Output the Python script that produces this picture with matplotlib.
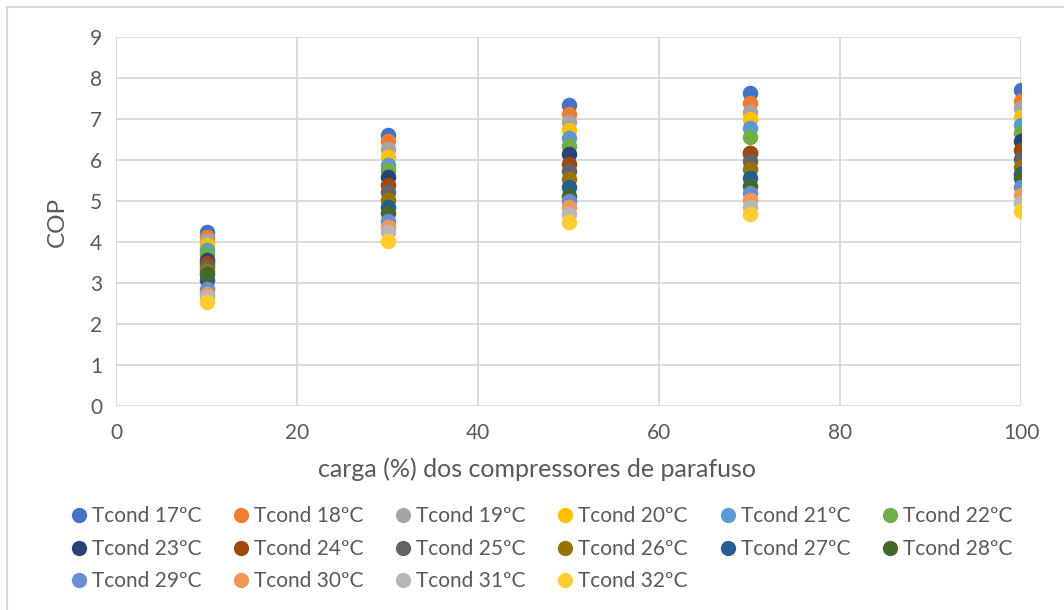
import matplotlib
matplotlib.use("Agg")
import matplotlib.pyplot as plt
from matplotlib.lines import Line2D

plt.rcParams['font.family'] = ['Lato', 'DejaVu Sans']

carga = [10, 30, 50, 70, 100]
series_names = ["Tcond 17ºC", "Tcond 18ºC", "Tcond 19ºC", "Tcond 20ºC", "Tcond 21ºC", "Tcond 22ºC",
                "Tcond 23ºC", "Tcond 24ºC", "Tcond 25ºC", "Tcond 26ºC", "Tcond 27ºC", "Tcond 28ºC",
                "Tcond 29ºC", "Tcond 30ºC", "Tcond 31ºC", "Tcond 32ºC"]
colors = ["#4472C4", "#ED7D31", "#A5A5A5", "#FFC000", "#5B9BD5", "#70AD47",
          "#264478", "#9E480E", "#636363", "#997300", "#255E91", "#43682B",
          "#698ED0", "#F1975A", "#B7B7B7", "#FFCD33"]

cop_17 = [4.24, 6.62, 7.35, 7.63, 7.71]
cop_18 = [4.12, 6.46, 7.12, 7.38, 7.45]
cop_19 = [4.02, 6.28, 6.92, 7.18, 7.26]
cop_20 = [3.92, 6.08, 6.72, 6.99, 7.06]
cop_21 = [3.80, 5.89, 6.53, 6.79, 6.85]
cop_22 = [3.70, 5.76, 6.35, 6.57, 6.67]
cop_23 = [3.57, 5.59, 6.15, 6.17, 6.47]
cop_24 = [3.49, 5.39, 5.90, 6.17, 6.24]
cop_25 = [3.39, 5.21, 5.72, 5.98, 6.02]
cop_26 = [3.30, 5.02, 5.54, 5.77, 5.82]
cop_27 = [3.07, 4.86, 5.33, 5.55, 5.65]
cop_28 = [3.23, 4.70, 5.13, 5.37, 5.55]
cop_29 = [2.86, 4.51, 5.00, 5.19, 5.33]
cop_30 = [2.74, 4.37, 4.85, 5.02, 5.15]
cop_31 = [2.66, 4.24, 4.68, 4.86, 4.96]
cop_32 = [2.54, 4.02, 4.50, 4.68, 4.76]

all_cop = [cop_17, cop_18, cop_19, cop_20, cop_21, cop_22, cop_23, cop_24,
           cop_25, cop_26, cop_27, cop_28, cop_29, cop_30, cop_31, cop_32]

xticks = [0, 20, 40, 60, 80, 100]
yticks = [0, 1, 2, 3, 4, 5, 6, 7, 8, 9]

text_color = "#595959"
grid_color = "#D9D9D9"

fig = plt.figure(figsize=(10.64, 6.10), dpi=100)
ax = fig.add_axes([116/1064, 1 - 406/610, (1021-116)/1064, (406-37)/610])

for name, col, vals in zip(series_names, colors, all_cop):
    ax.scatter(carga, vals, s=125, color=col, label=name, zorder=3, linewidths=0)

ax.set_xlim(0, 100)
ax.set_ylim(0, 9)
ax.set_xticks(xticks)
ax.set_yticks(yticks)
ax.grid(True, color=grid_color, linewidth=1.3, zorder=0)
ax.set_axisbelow(True)
for sp in ax.spines.values():
    sp.set_visible(False)
ax.tick_params(length=0, labelsize=15, colors=text_color, pad=10)
ax.tick_params(axis='x', pad=12)
ax.set_xlabel("carga (%) dos compressores de parafuso", fontsize=18, color=text_color)
ax.xaxis.label.set_verticalalignment('center')
ax.xaxis.set_label_coords((536.5 - 116) / 905, -(469 - 406) / 369)
ax.set_ylabel("COP", fontsize=17.5, color=text_color, labelpad=16)

# legend: reorder so that entries fill row by row
ncol = 6
handles = [Line2D([0], [0], marker='o', linestyle='none', markersize=11,
                  markerfacecolor=c, markeredgewidth=0) for c in colors]
order = []
for c in range(ncol):
    r = 0
    while r * ncol + c < len(series_names):
        order.append(r * ncol + c)
        r += 1
fig.legend([handles[i] for i in order], [series_names[i] for i in order],
           ncol=ncol, loc='upper left', bbox_to_anchor=(60/1064, 1 - 498/610),
           frameon=False, fontsize=15, labelcolor=text_color,
           handletextpad=0.12, columnspacing=1.41, handlelength=1.0,
           labelspacing=0.6, borderaxespad=0)

# chart border (left and top visible)
fig.add_artist(Line2D([7/1064, 7/1064], [0, 1 - 7/610], transform=fig.transFigure,
                      color=grid_color, linewidth=1.5))
fig.add_artist(Line2D([7/1064, 1], [1 - 7/610, 1 - 7/610], transform=fig.transFigure,
                      color=grid_color, linewidth=1.5))

fig.savefig("out.png", dpi=100, facecolor="white")
